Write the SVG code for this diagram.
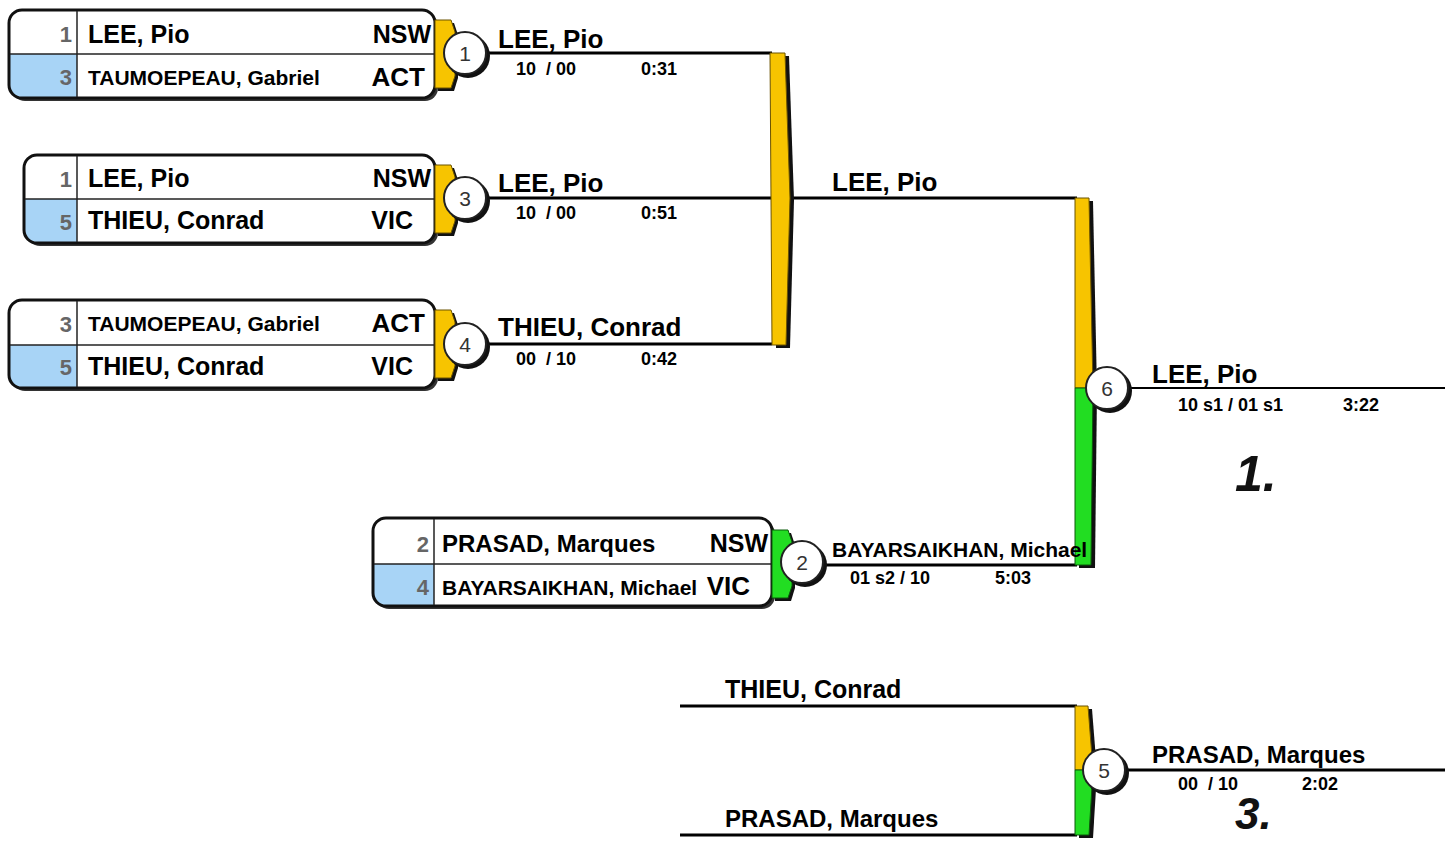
<svg xmlns="http://www.w3.org/2000/svg" width="1452" height="841" viewBox="0 0 1452 841">
<style>
text{font-family:"Liberation Sans",Arial,sans-serif;font-weight:bold;fill:#000;white-space:pre}
.box{fill:none;stroke:#111;stroke-width:3}
.bg{fill:#fff}
.shadow{fill:#333}
.sep{stroke:#222;stroke-width:1.5;fill:none}
.blue{fill:#a8d4f6}
.seed{font-size:22px;fill:#666;text-anchor:end}
.nm{font-size:25px}
.nms{font-size:21px}
.prov{font-size:25px;text-anchor:end}
.hdr{font-size:26px}
.sc{font-size:18px}
.cnum{font-size:21px;font-weight:normal;fill:#333;text-anchor:middle}
.cw{fill:#fff;stroke:#222;stroke-width:2}
.cs{fill:#111}
.ln{stroke:#000;stroke-width:3;fill:none}
.yel{fill:#f7c400;stroke:#6b5300;stroke-width:1}
.grn{fill:#22dd22;stroke:#0a5a0a;stroke-width:1}
.place{font-size:50px;font-style:italic;fill:#111}
</style>
<g id="connectors">
<line class="ln" x1="487" y1="53" x2="772" y2="53"/>
<line class="ln" x1="487" y1="198" x2="772" y2="198"/>
<line class="ln" x1="790" y1="198" x2="1077" y2="198"/>
<line class="ln" x1="487" y1="344" x2="772" y2="344"/>
<line class="ln" x1="825" y1="565" x2="1077" y2="565"/>
<line class="ln" x1="1130" y1="388" x2="1445" y2="388" style="stroke-width:2"/>
<line class="ln" x1="680" y1="706" x2="1077" y2="706"/>
<line class="ln" x1="680" y1="835" x2="1077" y2="835"/>
<line class="ln" x1="1128" y1="770" x2="1445" y2="770"/>
<polygon class="cs" points="774,56 789,56 794,200 790,348 776,348"/>
<polygon class="yel" points="770,53 785,53 790,198 786,345 772,345"/>
<polygon class="cs" points="1079,201 1093,201 1097,390 1095,568 1079,568"/>
<polygon class="yel" points="1075,198 1089,198 1093,388 1075,388"/>
<polygon class="grn" points="1075,388 1093,388 1091,565 1075,565"/>
<polygon class="cs" points="1079,709 1092,709 1097,772 1093,838 1079,838"/>
<polygon class="yel" points="1075,706 1088,706 1093,770 1075,770"/>
<polygon class="grn" points="1075,770 1093,770 1089,835 1075,835"/>
</g>
<g id="match1">
<rect class="shadow" x="12" y="13" width="426" height="88" rx="13"/>
<rect class="bg" x="9" y="10" width="426" height="88" rx="13"/>
<path class="blue" d="M10,54 H77 V97 H22 Q10,97 10,85 Z"/>
<rect class="box" x="9" y="10" width="426" height="88" rx="13"/>
<line class="sep" x1="77" y1="11" x2="77" y2="97"/>
<line class="sep" x1="10" y1="54" x2="434" y2="54"/>
<text class="seed" x="72" y="42">1</text>
<text class="nm" x="88" y="43">LEE, Pio</text>
<text class="prov" x="431" y="43">NSW</text>
<text class="seed" x="72" y="85">3</text>
<text class="nms" x="88" y="85">TAUMOEPEAU, Gabriel</text>
<text class="prov" x="425" y="86" style="font-size:26px">ACT</text>
<path class="cs" d="M438,23 H454 L458,35 L458,78 L454,91 H438 Z"/>
<path class="yel" d="M435,20 H451 L455,32 L455,76 L451,88 H435 Z"/>
<circle class="cs" cx="468" cy="56" r="22"/>
<circle class="cw" cx="465" cy="53" r="21"/>
<text class="cnum" x="465" y="61">1</text>
<text class="hdr" x="498" y="48">LEE, Pio</text>
<text class="sc" x="516" y="75">10  / 00</text>
<text class="sc" x="641" y="75">0:31</text>
</g>
<g id="match3">
<rect class="shadow" x="27" y="158" width="411" height="88" rx="13"/>
<rect class="bg" x="24" y="155" width="411" height="88" rx="13"/>
<path class="blue" d="M25,199 H77 V242 H37 Q25,242 25,230 Z"/>
<rect class="box" x="24" y="155" width="411" height="88" rx="13"/>
<line class="sep" x1="77" y1="156" x2="77" y2="242"/>
<line class="sep" x1="25" y1="199" x2="434" y2="199"/>
<text class="seed" x="72" y="187">1</text>
<text class="nm" x="88" y="187">LEE, Pio</text>
<text class="prov" x="431" y="187">NSW</text>
<text class="seed" x="72" y="230">5</text>
<text class="nm" x="88" y="229">THIEU, Conrad</text>
<text class="prov" x="413" y="229">VIC</text>
<path class="cs" d="M438,168 H454 L458,180 L458,223 L454,236 H438 Z"/>
<path class="yel" d="M435,165 H451 L455,177 L455,221 L451,233 H435 Z"/>
<circle class="cs" cx="468" cy="201" r="22"/>
<circle class="cw" cx="465" cy="198" r="21"/>
<text class="cnum" x="465" y="206">3</text>
<text class="hdr" x="498" y="192">LEE, Pio</text>
<text class="sc" x="516" y="219">10  / 00</text>
<text class="sc" x="641" y="219">0:51</text>
</g>
<g id="match4">
<rect class="shadow" x="12" y="303" width="426" height="88" rx="13"/>
<rect class="bg" x="9" y="300" width="426" height="88" rx="13"/>
<path class="blue" d="M10,345 H77 V387 H22 Q10,387 10,375 Z"/>
<rect class="box" x="9" y="300" width="426" height="88" rx="13"/>
<line class="sep" x1="77" y1="301" x2="77" y2="387"/>
<line class="sep" x1="10" y1="345" x2="434" y2="345"/>
<text class="seed" x="72" y="332">3</text>
<text class="nms" x="88" y="331">TAUMOEPEAU, Gabriel</text>
<text class="prov" x="425" y="332" style="font-size:26px">ACT</text>
<text class="seed" x="72" y="375">5</text>
<text class="nm" x="88" y="375">THIEU, Conrad</text>
<text class="prov" x="413" y="375">VIC</text>
<path class="cs" d="M438,313 H454 L458,325 L458,368 L454,381 H438 Z"/>
<path class="yel" d="M435,310 H451 L455,322 L455,366 L451,378 H435 Z"/>
<circle class="cs" cx="468" cy="347" r="22"/>
<circle class="cw" cx="465" cy="344" r="21"/>
<text class="cnum" x="465" y="352">4</text>
<text class="hdr" x="498" y="336">THIEU, Conrad</text>
<text class="sc" x="516" y="365">00  / 10</text>
<text class="sc" x="641" y="365">0:42</text>
</g>
<g id="match2">
<rect class="shadow" x="376" y="521" width="399" height="88" rx="13"/>
<rect class="bg" x="373" y="518" width="399" height="88" rx="13"/>
<path class="blue" d="M374,564 H434 V606 H386 Q374,606 374,594 Z"/>
<rect class="box" x="373" y="518" width="399" height="88" rx="13"/>
<line class="sep" x1="434" y1="519" x2="434" y2="605"/>
<line class="sep" x1="374" y1="564" x2="771" y2="564"/>
<text class="seed" x="429" y="552">2</text>
<text class="nm" x="442" y="552" style="font-size:24px">PRASAD, Marques</text>
<text class="prov" x="768" y="552">NSW</text>
<text class="seed" x="429" y="595">4</text>
<text class="nms" x="442" y="595">BAYARSAIKHAN, Michael</text>
<text class="prov" x="750" y="595" style="font-size:26px">VIC</text>
<path class="cs" d="M775,533 H791 L795,545 L795,588 L791,601 H775 Z"/>
<path class="grn" d="M772,530 H788 L792,542 L792,586 L788,598 H772 Z"/>
<circle class="cs" cx="805" cy="565" r="22"/>
<circle class="cw" cx="802" cy="562" r="21"/>
<text class="cnum" x="802" y="570">2</text>
<text class="nms" x="832" y="557">BAYARSAIKHAN, Michael</text>
<text class="sc" x="850" y="584">01 s2 / 10</text>
<text class="sc" x="995" y="584">5:03</text>
</g>
<g id="semi">
<text class="hdr" x="832" y="191">LEE, Pio</text>
</g>
<g id="match6">
<circle class="cs" cx="1110" cy="391" r="22"/>
<circle class="cw" cx="1107" cy="388" r="21"/>
<text class="cnum" x="1107" y="396">6</text>
<text class="hdr" x="1152" y="383">LEE, Pio</text>
<text class="sc" x="1178" y="411">10 s1 / 01 s1</text>
<text class="sc" x="1343" y="411">3:22</text>
<text class="place" x="1235" y="491">1.</text>
</g>
<g id="match5">
<text class="hdr" x="725" y="698" style="font-size:25px">THIEU, Conrad</text>
<text class="hdr" x="725" y="827" style="font-size:24px">PRASAD, Marques</text>
<circle class="cs" cx="1107" cy="773" r="22"/>
<circle class="cw" cx="1104" cy="770" r="21"/>
<text class="cnum" x="1104" y="778">5</text>
<text class="hdr" x="1152" y="763" style="font-size:24px">PRASAD, Marques</text>
<text class="sc" x="1178" y="790">00  / 10</text>
<text class="sc" x="1302" y="790">2:02</text>
<text class="place" x="1235" y="829" style="font-size:44px">3.</text>
</g>
</svg>
